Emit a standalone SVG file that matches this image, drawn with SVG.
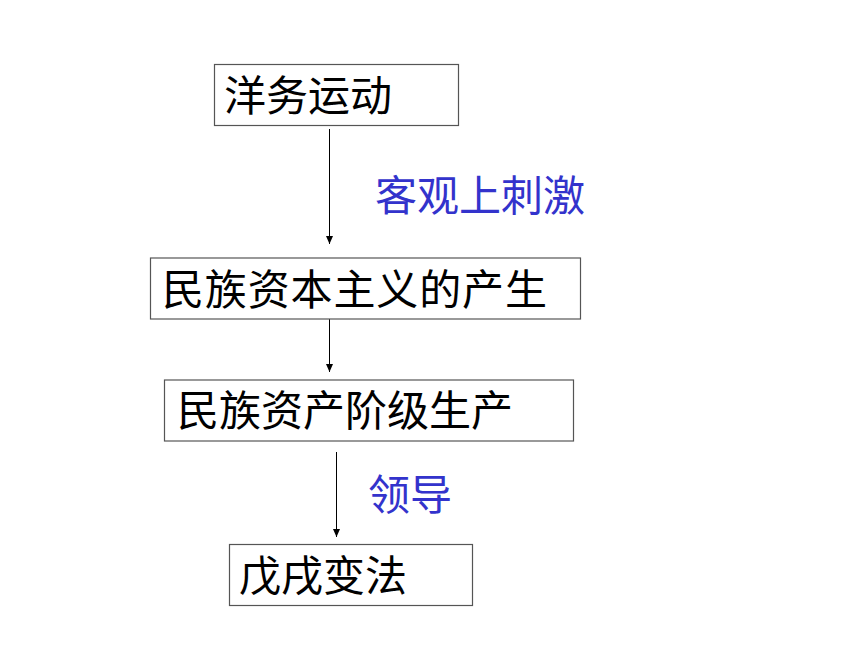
<svg xmlns="http://www.w3.org/2000/svg" width="860" height="645" viewBox="0 0 860 645">
<defs>
<marker id="arr" viewBox="0 0 8 8" refX="8" refY="4" markerWidth="8" markerHeight="8" markerUnits="userSpaceOnUse" orient="auto">
<path d="M0,0.5 L8,4 L0,7.5 Z" fill="#000"/>
</marker>
</defs>
<style>
.box{fill:#fff;stroke:#555;stroke-width:1.2}
.t{font-family:"Liberation Sans","Noto Sans CJK SC",sans-serif;font-size:42px;fill:#000}
.lbl{font-family:"Liberation Sans","Noto Sans CJK SC",sans-serif;font-size:42px;fill:#3333CC}
.c{stroke:#000;stroke-width:1;fill:none;marker-end:url(#arr)}
</style>
<rect width="860" height="645" fill="#fff"/>
<g id="connectors">
<line class="c" x1="329.5" y1="129" x2="329.5" y2="244"/>
<line class="c" x1="329.5" y1="319" x2="329.5" y2="372"/>
<line class="c" x1="336.5" y1="452" x2="336.5" y2="537"/>
</g>
<g id="label1"><text class="lbl" x="375" y="211">客观上刺激</text></g>
<g id="label2"><text class="lbl" x="368" y="510">领导</text></g>
<g id="node1">
<rect class="box" x="214.5" y="64.5" width="244" height="61"/>
<text class="t" x="224" y="111">洋务运动</text>
</g>
<g id="node2">
<rect class="box" x="150.5" y="258" width="430" height="61"/>
<text class="t" x="162" y="305" textLength="385" lengthAdjust="spacing">民族资本主义的产生</text>
</g>
<g id="node3">
<rect class="box" x="164.5" y="380" width="409" height="61"/>
<text class="t" x="177" y="426">民族资产阶级生产</text>
</g>
<g id="node4">
<rect class="box" x="229.5" y="544.5" width="243" height="61"/>
<text class="t" x="239" y="591">戊戌变法</text>
</g>
</svg>
